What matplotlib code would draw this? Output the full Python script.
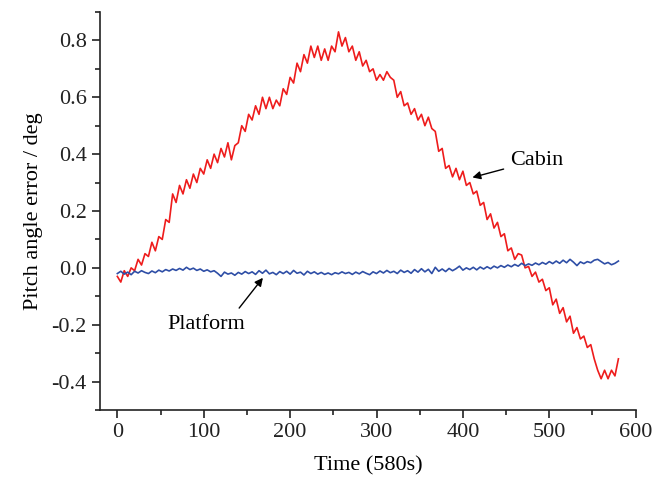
import numpy as np
import matplotlib
matplotlib.use('Agg')
import matplotlib.pyplot as plt

# sample grid, one reading every 4 s over the 580 s run
time_s = np.arange(0, 581, 4)

cabin = [
    -0.03, -0.05, -0.01, -0.03, 0.00, -0.01, 0.03, 0.01, 0.05, 0.04,
    0.09, 0.06, 0.11, 0.10, 0.17, 0.16, 0.26, 0.23, 0.29, 0.26,
    0.31, 0.28, 0.33, 0.30, 0.35, 0.33, 0.38, 0.35, 0.40, 0.37,
    0.42, 0.39, 0.44, 0.38, 0.43, 0.44, 0.50, 0.48, 0.54, 0.52,
    0.57, 0.54, 0.60, 0.56, 0.60, 0.56, 0.59, 0.57, 0.63, 0.61,
    0.67, 0.65, 0.72, 0.69, 0.75, 0.72, 0.78, 0.74, 0.78, 0.73,
    0.77, 0.73, 0.78, 0.76, 0.83, 0.78, 0.81, 0.76, 0.78, 0.73,
    0.76, 0.71, 0.73, 0.69, 0.70, 0.66, 0.68, 0.66, 0.69, 0.67,
    0.66, 0.60, 0.62, 0.57, 0.58, 0.54, 0.56, 0.52, 0.54, 0.50,
    0.53, 0.49, 0.48, 0.41, 0.42, 0.35, 0.36, 0.32, 0.35, 0.31,
    0.34, 0.29, 0.30, 0.26, 0.27, 0.22, 0.23, 0.17, 0.19, 0.14,
    0.16, 0.11, 0.12, 0.06, 0.07, 0.03, 0.05, 0.045, 0.00, 0.005,
    -0.03, -0.015, -0.05, -0.04, -0.08, -0.07, -0.13, -0.11, -0.16, -0.14,
    -0.19, -0.17, -0.23, -0.21, -0.25, -0.24, -0.28, -0.27, -0.32, -0.36,
    -0.39, -0.36, -0.39, -0.36, -0.38, -0.32,
]

platform = [
    -0.020, -0.012, -0.022, -0.015, -0.024, -0.012, -0.018, -0.010, -0.016, -0.020,
    -0.011, -0.017, -0.008, -0.014, -0.006, -0.011, -0.004, -0.009, -0.002, -0.008,
    0.002, -0.006, -0.001, -0.009, -0.004, -0.012, -0.007, -0.014, -0.010, -0.019,
    -0.030, -0.015, -0.022, -0.018, -0.026, -0.016, -0.022, -0.013, -0.020, -0.014,
    -0.023, -0.010, -0.019, -0.008, -0.021, -0.016, -0.024, -0.013, -0.020, -0.012,
    -0.022, -0.009, -0.019, -0.015, -0.025, -0.012, -0.020, -0.014, -0.022, -0.016,
    -0.023, -0.018, -0.024, -0.017, -0.021, -0.014, -0.020, -0.016, -0.023, -0.015,
    -0.021, -0.013, -0.019, -0.024, -0.014, -0.020, -0.011, -0.018, -0.009, -0.017,
    -0.012, -0.020, -0.008, -0.016, -0.010, -0.019, -0.006, -0.015, -0.003, -0.014,
    -0.005, -0.020, 0.002, -0.012, -0.004, -0.013, -0.002, -0.010, -0.003, 0.006,
    -0.008, 0.000, -0.006, 0.002, -0.007, 0.003, -0.004, 0.004, -0.003, 0.006,
    0.000, 0.008, 0.002, 0.010, 0.004, 0.012, 0.006, 0.016, 0.008, 0.014,
    0.009, 0.017, 0.011, 0.019, 0.013, 0.022, 0.015, 0.024, 0.016, 0.027,
    0.018, 0.030, 0.020, 0.008, 0.021, 0.015, 0.022, 0.018, 0.027, 0.030,
    0.022, 0.014, 0.019, 0.011, 0.016, 0.024,
]

plt.rcParams['font.family'] = ['Liberation Serif', 'DejaVu Serif']
plt.rcParams['font.size'] = 16

fig = plt.figure(figsize=(6.54, 4.79), dpi=100)
ax = fig.add_axes([0.153, 0.144, 0.819, 0.831])

ax.plot(time_s, cabin, color='#ee1c1c', lw=1.2)
ax.plot(time_s, platform, color='#2e4ea6', lw=1.2)

ax.set_xlim(-20, 600)
ax.set_ylim(-0.5, 0.9)
ax.set_xticks([0, 100, 200, 300, 400, 500, 600])
ax.set_xticks([50, 150, 250, 350, 450, 550], minor=True)
ax.set_yticks([-0.4, -0.2, 0.0, 0.2, 0.4, 0.6, 0.8])
ax.set_yticks([-0.5, -0.3, -0.1, 0.1, 0.3, 0.5, 0.7, 0.9], minor=True)
ax.set_yticklabels(['-0.4', '-0.2', '0.0', '0.2', '0.4', '0.6', '0.8'])

for side in ['top', 'right']:
    ax.spines[side].set_visible(False)
for side in ['left', 'bottom']:
    ax.spines[side].set_linewidth(1.2)
    ax.spines[side].set_color('#222222')
ax.tick_params(which='major', direction='out', length=6, width=1.2, colors='#222222', labelsize=16)
ax.tick_params(which='minor', direction='out', length=3.5, width=1.2, colors='#222222')

ax.set_xlabel('Time (580s)', fontsize=16, labelpad=10)
ax.set_ylabel('Pitch angle error / deg', fontsize=16, labelpad=6)

ax.annotate('Cabin', xy=(411, 0.318), xytext=(455, 0.379), fontsize=16,
            va='center', ha='left',
            arrowprops=dict(arrowstyle='-|>', color='black', lw=1.0,
                            shrinkA=3, shrinkB=0, mutation_scale=12))
ax.annotate('Platform', xy=(168.5, -0.035), xytext=(58, -0.2), fontsize=16,
            va='center', ha='left',
            arrowprops=dict(arrowstyle='-|>', color='black', lw=1.0,
                            shrinkA=4, shrinkB=0, mutation_scale=12,
                            relpos=(0.85, 1.0)))

fig.savefig('out.png', dpi=100)
